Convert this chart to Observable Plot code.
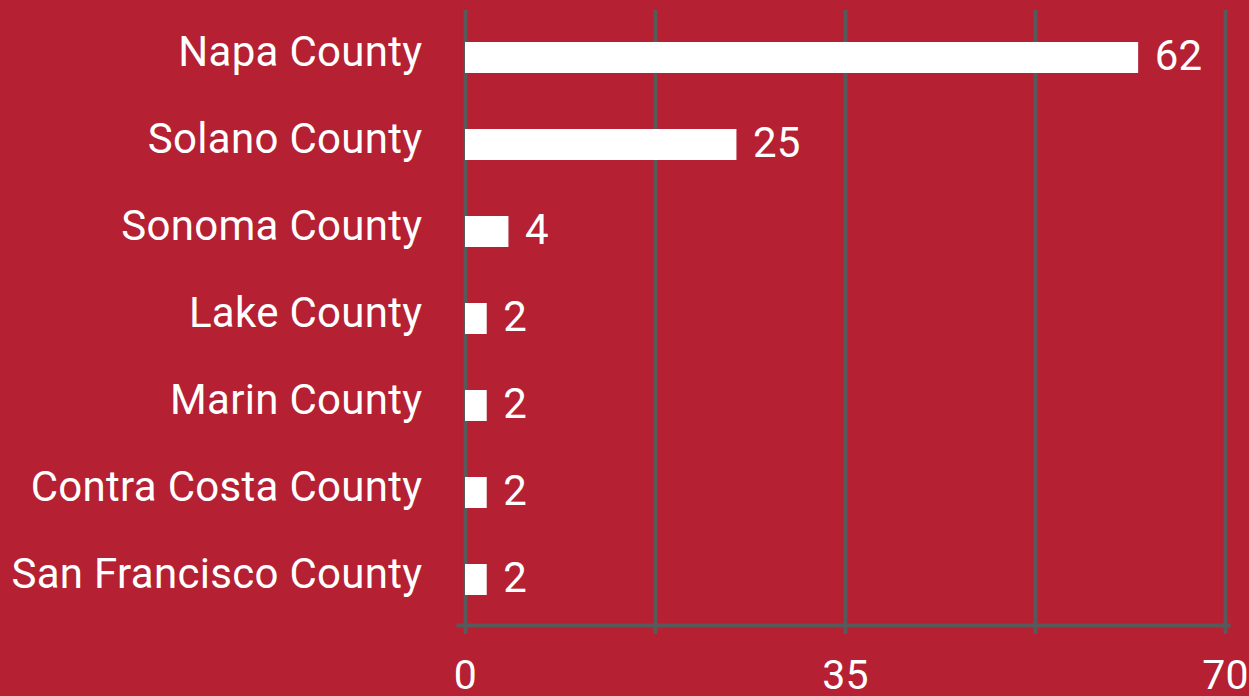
<!DOCTYPE html>
<html>
<head>
<meta charset="utf-8">
<script src="https://cdn.jsdelivr.net/npm/d3@7"></script>
<script src="https://cdn.jsdelivr.net/npm/@observablehq/plot@0.6"></script>
<style>
  html, body { margin: 0; padding: 0; background: #B52033; }
  #chart svg { display: block; }
  #chart svg text { letter-spacing: 0.3px; }
</style>
</head>
<body>
<div id="chart"></div>
<script>
const counties = ["Napa County", "Solano County", "Sonoma County", "Lake County", "Marin County", "Contra Costa County", "San Francisco County"];
const values = [62, 25, 4, 2, 2, 2, 2];
const gridValues = [0, 17.5, 35, 52.5, 70];
const tickLabels = [0, 35, 70];

const data = counties.map((c, i) => ({county: c, value: values[i]}));
const grey = "#58595B";
const font = "Roboto, 'Noto Sans', sans-serif";

const chart = Plot.plot({
  width: 1249,
  height: 696,
  marginLeft: 465,
  marginRight: 24,
  marginTop: 13,
  marginBottom: 71,
  style: {background: "#B52033", fontFamily: font, color: "white"},
  x: {domain: [0, 70]},
  y: {domain: counties, paddingInner: 0.64, paddingOuter: 0.32},
  marks: [
    Plot.ruleX(gridValues, {stroke: grey, strokeWidth: 4, insetTop: -3, insetBottom: -9}),
    Plot.frame({anchor: "bottom", stroke: grey, strokeWidth: 4, insetLeft: -7, insetRight: -3}),
    Plot.barX(data, {x: "value", y: "county", fill: "white"}),
    Plot.text(data, {x: "value", y: "county", text: d => String(d.value), textAnchor: "start", dx: 16, dy: -1, fill: "white", fontSize: 42}),
    Plot.axisY({tickSize: 0, tickPadding: 43, fontSize: 42, fill: "white", label: null, dy: -5}),
    Plot.axisX({ticks: tickLabels, tickSize: 0, tickPadding: 34, fontSize: 41, fill: "white", label: null, tickFormat: d => String(d)})
  ]
});
document.getElementById("chart").appendChild(chart);
</script>
</body>
</html>
